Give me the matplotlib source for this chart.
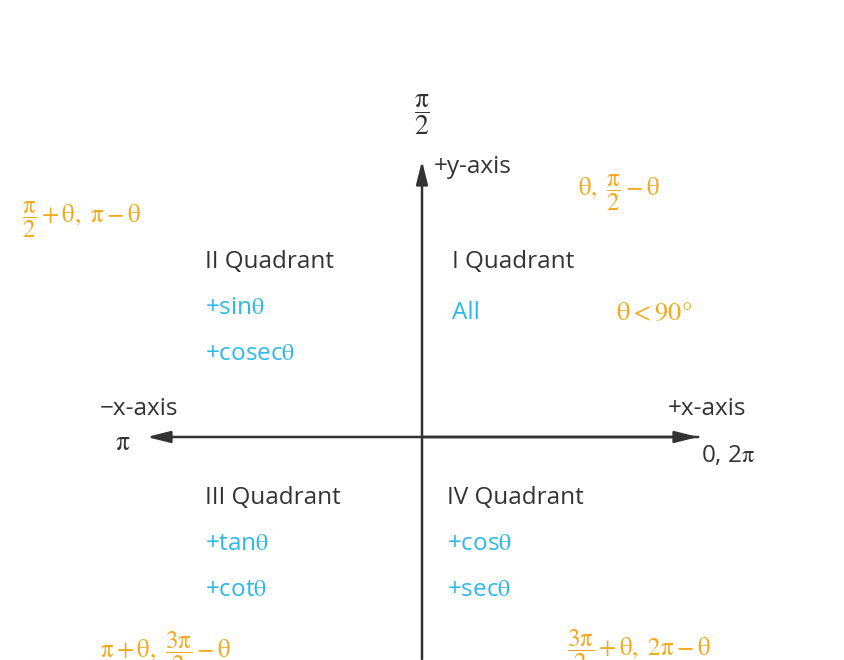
import matplotlib
matplotlib.use("Agg")
import matplotlib.pyplot as plt

plt.rcParams['mathtext.fontset'] = 'stix'
plt.rcParams['font.family'] = ['Open Sans', 'DejaVu Sans']

DARK = '#333333'
BLUE = '#2DB8EA'
ORANGE = '#F5A81C'

quad_names = ['I Quadrant', 'II Quadrant', 'III Quadrant', 'IV Quadrant']
quad_pos = [(452, 262), (205, 262), (205, 498), (447, 498)]
signs = [['All'], ['+sin$\\mathrm{\\theta}$', '+cosec$\\mathrm{\\theta}$'],
         ['+tan$\\mathrm{\\theta}$', '+cot$\\mathrm{\\theta}$'],
         ['+cos$\\mathrm{\\theta}$', '+sec$\\mathrm{\\theta}$']]
angles = [r'$\mathrm{\theta,\ \dfrac{\pi}{2}-\theta}$', r'$\mathrm{\dfrac{\pi}{2}+\theta,\ \pi-\theta}$',
          r'$\mathrm{\pi+\theta,\ \dfrac{3\pi}{2}-\theta}$', r'$\mathrm{\dfrac{3\pi}{2}+\theta,\ 2\pi-\theta}$']
angle_pos = [(578, 193), (22, 220), (100, 652), (567, 650)]

fig = plt.figure(figsize=(8.44, 6.6), dpi=100)
ax = fig.add_axes([0, 0, 1, 1])
ax.set_xlim(0, 844)
ax.set_ylim(660, 0)
ax.axis('off')

arrow = dict(arrowstyle='-|>,head_length=1.4,head_width=0.35', color=DARK, lw=1.8)
ax.annotate('', xy=(422, 158), xytext=(422, 662), arrowprops=arrow)
ax.annotate('', xy=(144, 437), xytext=(701, 437), arrowprops=arrow)
ax.annotate('', xy=(701, 437), xytext=(420, 437), arrowprops=arrow)

for name, (x, y), s in zip(quad_names, quad_pos, signs):
    ax.text(x, y, name, fontsize=17.5, color=DARK, va='center', ha='left')
    for i, t in enumerate(s):
        ax.text(x, y + 46 * (i + 1) + (5 if name.startswith('I ') else 0), t, fontsize=17.5,
                color=BLUE, va='center', ha='left')

for t, (x, y) in zip(angles, angle_pos):
    ax.text(x, y, t, fontsize=18, color=ORANGE, va='center', ha='left')

ax.text(616, 313, r'$\mathrm{\theta<90°}$', fontsize=19, color=ORANGE, va='center', ha='left')
ax.text(422, 115, r'$\mathrm{\dfrac{\pi}{2}}$', fontsize=20, color=DARK, va='center', ha='center')
ax.text(434, 167, '+y-axis', fontsize=17.5, color=DARK, va='center', ha='left')
ax.text(100, 409, '−x-axis', fontsize=17.5, color=DARK, va='center', ha='left')
ax.text(115, 443, r'$\mathrm{\pi}$', fontsize=20, color=DARK, va='center', ha='left')
ax.text(668, 409, '+x-axis', fontsize=17.5, color=DARK, va='center', ha='left')
ax.text(701, 456, r'0, 2$\mathrm{\pi}$', fontsize=17.5, color=DARK, va='center', ha='left')

fig.savefig('out.png', dpi=100)
